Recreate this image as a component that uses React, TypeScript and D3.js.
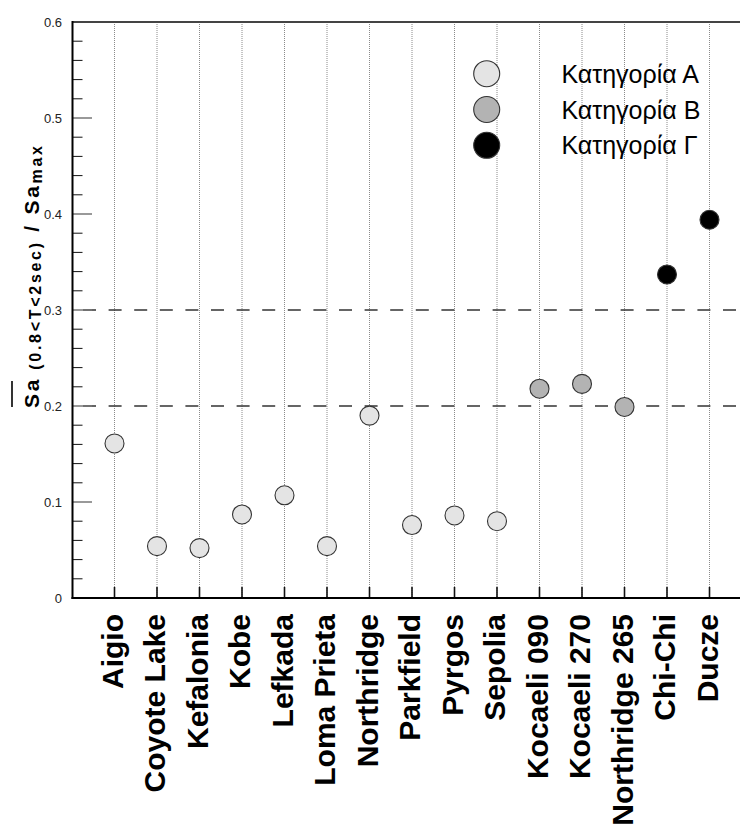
import React from "react";
import * as d3 from "d3";

const categories = [
  "Aigio", "Coyote Lake", "Kefalonia", "Kobe", "Lefkada", "Loma Prieta", "Northridge",
  "Parkfield", "Pyrgos", "Sepolia", "Kocaeli 090", "Kocaeli 270", "Northridge 265", "Chi-Chi", "Ducze",
];
const values = [
  0.161, 0.054, 0.052, 0.087, 0.107, 0.054, 0.190,
  0.076, 0.086, 0.080, 0.218, 0.223, 0.199, 0.337, 0.394,
];
const groups = ["A", "A", "A", "A", "A", "A", "A", "A", "A", "A", "B", "B", "B", "C", "C"];
const legendKeys = ["A", "B", "C"];
const legendLabels = ["Κατηγορία Α", "Κατηγορία Β", "Κατηγορία Γ"];
const yTicks = [0, 0.1, 0.2, 0.3, 0.4, 0.5, 0.6];
const refLines = [0.2, 0.3];

const fills: Record<string, string> = { A: "#e4e4e4", B: "#b3b3b3", C: "#000000" };

const W = 740, H = 830;
const left = 72.5, top = 22, bottom = 598, right = 740;

export default function App() {
  const x = d3.scaleLinear().domain([0, 16]).range([left - 0.5, left - 0.5 + 42.5 * 16]);
  const y = d3.scaleLinear().domain([0, 0.6]).range([bottom, top]);
  const minor = d3.range(0, 0.6001, 0.02).filter((v) => Math.abs(v * 10 - Math.round(v * 10)) > 1e-6);
  const font = "'Liberation Sans', Arial, sans-serif";

  return (
    <div style={{ position: "absolute", left: 0, top: 0 }}>
      <svg width={W} height={H} style={{ display: "block", background: "#fff" }} fontFamily={font}>
        {/* vertical dotted grid */}
        {categories.map((c, i) => (
          <line key={"g" + c} x1={x(i + 1)} x2={x(i + 1)} y1={top} y2={bottom}
            stroke="#8a8a8a" strokeWidth={1} strokeDasharray="1,1" />
        ))}
        {/* dashed reference lines */}
        {refLines.map((v) => (
          <line key={"r" + v} x1={83} x2={right} y1={y(v)} y2={y(v)}
            stroke="#333" strokeWidth={1.3} strokeDasharray="13,12.6" />
        ))}
        {/* minor ticks */}
        {minor.map((v) => (
          <line key={"m" + v} x1={left} x2={left + 10} y1={y(v)} y2={y(v)} stroke="#111" strokeWidth={1} />
        ))}
        {/* major ticks */}
        {yTicks.map((v) => (
          <line key={"M" + v} x1={left} x2={left + 19.5} y1={y(v)} y2={y(v)} stroke="#777" strokeWidth={1.5} />
        ))}
        {/* bottom ticks */}
        {categories.map((c, i) => (
          <line key={"t" + c} x1={x(i + 1)} x2={x(i + 1)} y1={bottom} y2={bottom - 11} stroke="#111" strokeWidth={1.6} />
        ))}
        {/* frame */}
        <line x1={left} x2={right} y1={top} y2={top} stroke="#444" strokeWidth={2} />
        <line x1={left} x2={left} y1={top - 1} y2={bottom + 1} stroke="#000" strokeWidth={2} />
        <line x1={left - 1} x2={right} y1={bottom} y2={bottom} stroke="#000" strokeWidth={2.2} />

        {/* y tick labels */}
        {yTicks.map((v) => (
          <text key={"yl" + v} x={62} y={y(v)} dy="0.36em" textAnchor="end" fontSize={13} fill="#222">
            {v === 0 ? "0" : d3.format(".1f")(v)}
          </text>
        ))}

        {/* points */}
        {values.map((v, i) => (
          <circle key={"p" + i} cx={x(i + 1)} cy={y(v)} r={9.5}
            fill={fills[groups[i]]} stroke="#333" strokeWidth={1.1} />
        ))}

        {/* x labels */}
        {categories.map((c, i) => (
          <text key={"xl" + c} transform={`translate(${x(i + 1) + 8},614) rotate(-90)`}
            textAnchor="end" fontSize={30} fontWeight="bold" fill="#000">
            {c}
          </text>
        ))}

        {/* y-axis title */}
        <line x1={12} x2={12} y1={381} y2={407} stroke="#000" strokeWidth={1.6} />
        <text transform="translate(39,408) rotate(-90)" fontWeight="bold" fontSize={21} fill="#000"
          textLength={262} lengthAdjust="spacing">
          <tspan>Sa</tspan>
          <tspan fontSize={16} dy={2}> (0.8&lt;T&lt;2sec)</tspan>
          <tspan dy={-2}> / Sa</tspan>
          <tspan fontSize={16} dy={3}>max</tspan>
        </text>

        {/* legend */}
        {legendKeys.map((k, i) => (
          <g key={"lg" + k}>
            <circle cx={486.7} cy={73.7 + i * 35.8} r={13} fill={fills[k]} stroke="#333" strokeWidth={1.1} />
            <text x={561.5} y={73.7 + i * 35.8 + 9} fontSize={25} fill="#000">{legendLabels[i]}</text>
          </g>
        ))}
      </svg>
    </div>
  );
}
